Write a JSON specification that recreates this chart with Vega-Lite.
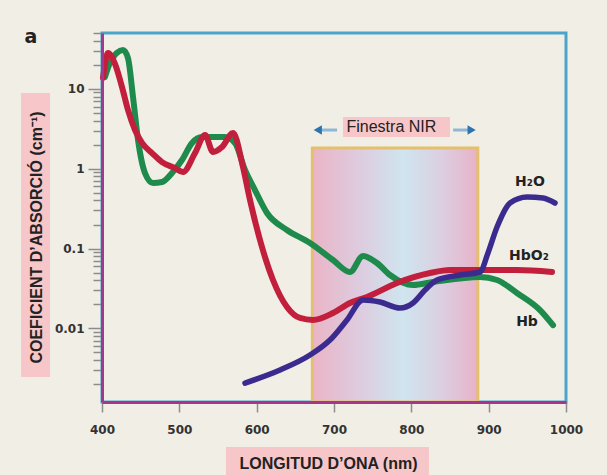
{
  "$schema": "https://vega.github.io/schema/vega-lite/v6.json",
  "width": 464,
  "height": 369,
  "autosize": {"type": "none"},
  "padding": {"left": 102, "top": 33, "right": 41, "bottom": 73},
  "background": "#f1eee6",
  "config": {
    "view": {"stroke": "#4ba5c9", "strokeWidth": 3},
    "font": "Liberation Sans"
  },
  "datasets": {
    "curves": [
      {"s": "Hb", "wl": 403.9, "k": 14.1},
      {"s": "Hb", "wl": 410.3, "k": 21.1},
      {"s": "Hb", "wl": 427.2, "k": 30.6},
      {"s": "Hb", "wl": 433.6, "k": 24.3},
      {"s": "Hb", "wl": 440.1, "k": 7.9},
      {"s": "Hb", "wl": 446.6, "k": 2.29},
      {"s": "Hb", "wl": 455.6, "k": 0.883},
      {"s": "Hb", "wl": 466.0, "k": 0.662},
      {"s": "Hb", "wl": 477.6, "k": 0.681},
      {"s": "Hb", "wl": 490.5, "k": 0.883},
      {"s": "Hb", "wl": 503.4, "k": 1.285},
      {"s": "Hb", "wl": 516.4, "k": 2.1},
      {"s": "Hb", "wl": 529.3, "k": 2.49},
      {"s": "Hb", "wl": 559.1, "k": 2.49},
      {"s": "Hb", "wl": 572.0, "k": 2.1},
      {"s": "Hb", "wl": 584.9, "k": 0.964},
      {"s": "Hb", "wl": 597.8, "k": 0.541},
      {"s": "Hb", "wl": 613.4, "k": 0.279},
      {"s": "Hb", "wl": 639.2, "k": 0.171},
      {"s": "Hb", "wl": 669.0, "k": 0.1175},
      {"s": "Hb", "wl": 698.7, "k": 0.0719},
      {"s": "Hb", "wl": 720.7, "k": 0.0509},
      {"s": "Hb", "wl": 737.5, "k": 0.0807},
      {"s": "Hb", "wl": 755.6, "k": 0.0659},
      {"s": "Hb", "wl": 772.4, "k": 0.0467},
      {"s": "Hb", "wl": 802.2, "k": 0.035},
      {"s": "Hb", "wl": 828.0, "k": 0.0381},
      {"s": "Hb", "wl": 888.8, "k": 0.0441},
      {"s": "Hb", "wl": 910.8, "k": 0.0404},
      {"s": "Hb", "wl": 936.6, "k": 0.0278},
      {"s": "Hb", "wl": 966.4, "k": 0.017},
      {"s": "Hb", "wl": 983.2, "k": 0.011},
      {"s": "HbO2", "wl": 401.3, "k": 13.7},
      {"s": "HbO2", "wl": 407.8, "k": 28.1},
      {"s": "HbO2", "wl": 416.8, "k": 20.5},
      {"s": "HbO2", "wl": 425.9, "k": 10.5},
      {"s": "HbO2", "wl": 433.6, "k": 5.43},
      {"s": "HbO2", "wl": 442.7, "k": 3.05},
      {"s": "HbO2", "wl": 451.7, "k": 2.1},
      {"s": "HbO2", "wl": 464.7, "k": 1.57},
      {"s": "HbO2", "wl": 477.6, "k": 1.21},
      {"s": "HbO2", "wl": 494.4, "k": 1.02},
      {"s": "HbO2", "wl": 504.7, "k": 0.909},
      {"s": "HbO2", "wl": 520.3, "k": 1.57},
      {"s": "HbO2", "wl": 533.2, "k": 2.64},
      {"s": "HbO2", "wl": 543.5, "k": 1.62},
      {"s": "HbO2", "wl": 555.2, "k": 1.87},
      {"s": "HbO2", "wl": 569.4, "k": 2.8},
      {"s": "HbO2", "wl": 582.3, "k": 1.05},
      {"s": "HbO2", "wl": 591.4, "k": 0.406},
      {"s": "HbO2", "wl": 604.3, "k": 0.128},
      {"s": "HbO2", "wl": 621.1, "k": 0.0404},
      {"s": "HbO2", "wl": 639.2, "k": 0.01855},
      {"s": "HbO2", "wl": 656.0, "k": 0.01352},
      {"s": "HbO2", "wl": 672.8, "k": 0.01276},
      {"s": "HbO2", "wl": 698.7, "k": 0.0156},
      {"s": "HbO2", "wl": 720.7, "k": 0.0208},
      {"s": "HbO2", "wl": 742.7, "k": 0.0248},
      {"s": "HbO2", "wl": 781.5, "k": 0.0371},
      {"s": "HbO2", "wl": 824.1, "k": 0.0494},
      {"s": "HbO2", "wl": 850.0, "k": 0.0539},
      {"s": "HbO2", "wl": 888.8, "k": 0.0539},
      {"s": "HbO2", "wl": 936.6, "k": 0.0539},
      {"s": "HbO2", "wl": 981.9, "k": 0.0509},
      {"s": "H2O", "wl": 584.9, "k": 0.00207},
      {"s": "H2O", "wl": 630.2, "k": 0.00302},
      {"s": "H2O", "wl": 669.0, "k": 0.00465},
      {"s": "H2O", "wl": 694.8, "k": 0.00716},
      {"s": "H2O", "wl": 716.8, "k": 0.01276},
      {"s": "H2O", "wl": 737.5, "k": 0.0227},
      {"s": "H2O", "wl": 759.5, "k": 0.0214},
      {"s": "H2O", "wl": 785.3, "k": 0.018},
      {"s": "H2O", "wl": 802.2, "k": 0.0208},
      {"s": "H2O", "wl": 817.7, "k": 0.0303},
      {"s": "H2O", "wl": 833.2, "k": 0.0404},
      {"s": "H2O", "wl": 862.9, "k": 0.0467},
      {"s": "H2O", "wl": 888.8, "k": 0.0509},
      {"s": "H2O", "wl": 899.1, "k": 0.0881},
      {"s": "H2O", "wl": 910.8, "k": 0.186},
      {"s": "H2O", "wl": 927.6, "k": 0.372},
      {"s": "H2O", "wl": 949.6, "k": 0.443},
      {"s": "H2O", "wl": 970.3, "k": 0.43},
      {"s": "H2O", "wl": 985.8, "k": 0.372}
    ],
    "window": [{"wl": 672, "wl2": 886, "k": 0.0012, "k2": 1.82}],
    "boxes": [
      {"wl": 295.3, "wl2": 332.8, "k": 0.00247, "k2": 8.87},
      {"wl": 560.3, "wl2": 822.8, "k": 0.0001, "k2": 0.000328},
      {"wl": 711.6, "wl2": 850.0, "k": 2.49, "k2": 4.44}
    ],
    "arrowLines": [
      {"side": "l", "wl": 679, "wl2": 704, "k": 3.05},
      {"side": "r", "wl": 854, "wl2": 878, "k": 3.05}
    ],
    "arrowHeads": [
      {"side": "l", "wl": 679, "k": 3.05},
      {"side": "r", "wl": 878, "k": 3.05}
    ],
    "curveLabels": [
      {"t": "H₂O", "wl": 953.4, "k": 0.682},
      {"t": "HbO₂", "wl": 952.1, "k": 0.0807},
      {"t": "Hb", "wl": 949.6, "k": 0.01205}
    ],
    "nirLabel": [{"t": "Finestra NIR", "wl": 774.2, "k": 3.33}],
    "tag": [{"t": "a", "wl": 308.2, "k": 44.6}]
  },
  "layer": [
    {
      "data": {"name": "boxes"},
      "mark": {"type": "rect", "color": "#f7c6c8"},
      "encoding": {
        "x": {
          "field": "wl", "type": "quantitative",
          "scale": {"domain": [400, 1000], "nice": false, "zero": false},
          "axis": {
            "title": "LONGITUD D’ONA (nm)",
            "values": [400, 450, 500, 550, 600, 650, 700, 750, 800, 850, 900, 950, 1000],
            "format": "d",
            "labelExpr": "datum.value % 100 == 0 ? datum.label : ''",
            "tickSize": {"condition": {"test": "datum.value % 100 == 0", "value": 10}, "value": 7},
            "tickColor": "#8c8c8c",
            "tickWidth": 1.5,
            "domainColor": "#a8358a",
            "domainWidth": 3,
            "grid": false,
            "labelFont": "DejaVu Sans",
            "labelFontWeight": "bold",
            "labelFontSize": 12,
            "labelColor": "#333333",
            "labelPadding": 12,
            "labelFlush": false,
            "labelOverlap": false,
            "titleFont": "Liberation Sans",
            "titleFontSize": 16,
            "titleFontWeight": "bold",
            "titleColor": "#222222",
            "titleX": 226,
            "titleY": 61,
            "titleBaseline": "middle",
            "zindex": 1
          }
        },
        "x2": {"field": "wl2"},
        "y": {
          "field": "k", "type": "quantitative",
          "scale": {"type": "log", "domain": [0.0012, 50], "nice": false},
          "axis": {
            "title": "COEFICIENT D’ABSORCIÓ (cm⁻¹)",
            "values": [0.002, 0.003, 0.004, 0.005, 0.006, 0.007, 0.008, 0.009, 0.01, 0.02, 0.03, 0.04, 0.05, 0.06, 0.07, 0.08, 0.09, 0.1, 0.2, 0.3, 0.4, 0.5, 0.6, 0.7, 0.8, 0.9, 1, 2, 3, 4, 5, 6, 7, 8, 9, 10, 20, 30, 40, 50],
            "labelExpr": "datum.value == 10 ? '10' : datum.value == 1 ? '1' : datum.value == 0.1 ? '0.1' : datum.value == 0.01 ? '0.01' : ''",
            "tickSize": {"condition": {"test": "datum.value == 10 || datum.value == 1 || datum.value == 0.1 || datum.value == 0.01", "value": 14}, "value": 9},
            "tickColor": "#8c8c8c",
            "tickWidth": 1.5,
            "domainColor": "#9e3a92",
            "domainWidth": 3,
            "grid": false,
            "labelFont": "DejaVu Sans",
            "labelFontWeight": "bold",
            "labelFontSize": 12,
            "labelColor": "#333333",
            "labelPadding": 4,
            "labelFlush": false,
            "labelOverlap": false,
            "titleFont": "Liberation Sans",
            "titleFontSize": 16,
            "titleFontWeight": "bold",
            "titleColor": "#222222",
            "titleX": -66,
            "titleY": 204,
            "titleBaseline": "middle",
            "zindex": 1
          }
        },
        "y2": {"field": "k2"}
      }
    },
    {
      "data": {"name": "window"},
      "mark": {
        "type": "rect",
        "fill": {
          "gradient": "linear", "x1": 0, "y1": 0, "x2": 1, "y2": 0,
          "stops": [
            {"offset": 0, "color": "#eab4c6"},
            {"offset": 0.3, "color": "#ddcde0"},
            {"offset": 0.55, "color": "#cfe5ef"},
            {"offset": 0.78, "color": "#dccfe1"},
            {"offset": 1, "color": "#e8b2c8"}
          ]
        },
        "stroke": "#e4bf6c",
        "strokeWidth": 3
      },
      "encoding": {
        "x": {"field": "wl", "type": "quantitative"},
        "x2": {"field": "wl2"},
        "y": {"field": "k", "type": "quantitative"},
        "y2": {"field": "k2"}
      }
    },
    {
      "data": {"name": "arrowLines"},
      "mark": {"type": "rule", "color": "#8db7d5", "strokeWidth": 3},
      "encoding": {
        "x": {"field": "wl", "type": "quantitative"},
        "x2": {"field": "wl2"},
        "y": {"field": "k", "type": "quantitative"}
      }
    },
    {
      "data": {"name": "arrowHeads"},
      "mark": {"type": "point", "filled": true, "color": "#2b74ad", "opacity": 1, "size": 90},
      "encoding": {
        "x": {"field": "wl", "type": "quantitative"},
        "y": {"field": "k", "type": "quantitative"},
        "shape": {"field": "side", "type": "nominal", "scale": {"domain": ["l", "r"], "range": ["triangle-left", "triangle-right"]}, "legend": null}
      }
    },
    {
      "data": {"name": "curves"},
      "transform": [{"filter": "datum.s == 'Hb'"}],
      "mark": {"type": "line", "color": "#1e8b4c", "strokeWidth": 6, "interpolate": "monotone", "strokeCap": "round", "strokeJoin": "round"},
      "encoding": {
        "x": {"field": "wl", "type": "quantitative"},
        "y": {"field": "k", "type": "quantitative"}
      }
    },
    {
      "data": {"name": "curves"},
      "transform": [{"filter": "datum.s == 'HbO2'"}],
      "mark": {"type": "line", "color": "#c21f3d", "strokeWidth": 6, "interpolate": "monotone", "strokeCap": "round", "strokeJoin": "round"},
      "encoding": {
        "x": {"field": "wl", "type": "quantitative"},
        "y": {"field": "k", "type": "quantitative"}
      }
    },
    {
      "data": {"name": "curves"},
      "transform": [{"filter": "datum.s == 'H2O'"}],
      "mark": {"type": "line", "color": "#3b2b8f", "strokeWidth": 5.5, "interpolate": "monotone", "strokeCap": "round", "strokeJoin": "round"},
      "encoding": {
        "x": {"field": "wl", "type": "quantitative"},
        "y": {"field": "k", "type": "quantitative"}
      }
    },
    {
      "data": {"name": "curveLabels"},
      "mark": {"type": "text", "font": "DejaVu Sans", "fontWeight": "bold", "fontSize": 14, "color": "#222222", "align": "center", "baseline": "middle"},
      "encoding": {
        "x": {"field": "wl", "type": "quantitative"},
        "y": {"field": "k", "type": "quantitative"},
        "text": {"field": "t"}
      }
    },
    {
      "data": {"name": "nirLabel"},
      "mark": {"type": "text", "font": "Liberation Sans", "fontSize": 16, "color": "#222222", "align": "center", "baseline": "middle"},
      "encoding": {
        "x": {"field": "wl", "type": "quantitative"},
        "y": {"field": "k", "type": "quantitative"},
        "text": {"field": "t"}
      }
    },
    {
      "data": {"name": "tag"},
      "mark": {"type": "text", "font": "DejaVu Sans", "fontWeight": "bold", "fontSize": 19, "color": "#222222", "align": "center", "baseline": "middle"},
      "encoding": {
        "x": {"field": "wl", "type": "quantitative"},
        "y": {"field": "k", "type": "quantitative"},
        "text": {"field": "t"}
      }
    }
  ]
}
